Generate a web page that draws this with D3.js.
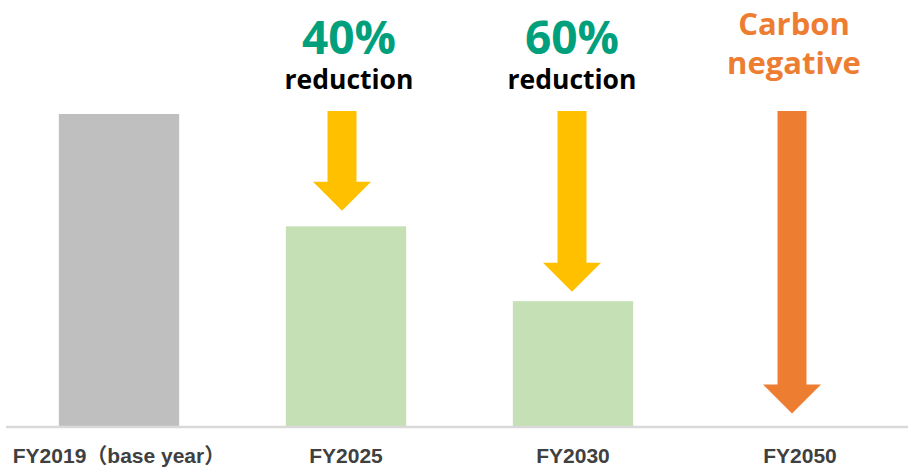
<!DOCTYPE html>
<html>
<head>
<meta charset="utf-8">
<script src="https://cdn.jsdelivr.net/npm/d3@7"></script>
<style>
  body { margin: 0; background: #fff; }
  svg { display: block; }
</style>
</head>
<body>
<svg id="chart" width="908" height="468"></svg>
<script>
// data
var categories = ["FY2019（base year）", "FY2025", "FY2030", "FY2050"];
var emissions = [100, 64, 40, 0];
var barColors = ["#bfbfbf", "#c5e0b4", "#c5e0b4", null];

// reduction arrows (from -> to, in the same units as the bars)
var arrowCats = ["FY2025", "FY2030", "FY2050"];
var arrowFrom = [101, 101, 101];
var arrowTo = [69, 43, 4];
var arrowColors = ["#ffc000", "#ffc000", "#ed7d31"];
var headlines = ["40%", "60%", "Carbon"];
var sublines = ["reduction", "reduction", "negative"];

var svg = d3.select("#chart");

var x = d3.scaleBand()
  .domain(categories)
  .range([5.5, 913.5])
  .paddingInner(0.47)
  .paddingOuter(0.235);

var y = d3.scaleLinear().domain([0, 100]).range([426, 114]);

// bars
svg.selectAll(".bar")
  .data(categories.filter(function (d, i) { return emissions[i] > 0; }))
  .enter()
  .append("rect")
  .attr("class", "bar")
  .attr("x", function (d) { return x(d); })
  .attr("width", x.bandwidth())
  .attr("y", function (d) { return y(emissions[categories.indexOf(d)]); })
  .attr("height", function (d) { return y(0) - y(emissions[categories.indexOf(d)]); })
  .attr("fill", function (d) { return barColors[categories.indexOf(d)]; });

// axis
var axisGen = d3.axisBottom(x).tickSize(0);
var axis = svg.append("g")
  .attr("transform", "translate(0,427)")
  .call(axisGen);
axis.select(".domain")
  .attr("stroke", "#d9d9d9")
  .attr("stroke-width", 2.5)
  .attr("d", "M6,0H908");
axis.selectAll(".tick text")
  .attr("y", 36)
  .attr("dy", 0)
  .attr("fill", "#404040")
  .attr("font-family", "'Liberation Sans', Arial, 'Noto Sans CJK JP', sans-serif")
  .attr("font-weight", "bold")
  .attr("font-size", 21);

// arrows
var arrowShift = [-4, -1, -8];
var textShift = [3, -1, -6];
var shaftW = 29, headW = 58, headH = 29;

arrowCats.forEach(function (c, i) {
  var cx = x(c) + x.bandwidth() / 2 + arrowShift[i];
  var top = y(arrowFrom[i]);
  var tip = y(arrowTo[i]);
  var neck = tip - headH;
  var pts = [
    [cx - shaftW / 2, top],
    [cx + shaftW / 2, top],
    [cx + shaftW / 2, neck],
    [cx + headW / 2, neck],
    [cx, tip],
    [cx - headW / 2, neck],
    [cx - shaftW / 2, neck]
  ];
  svg.append("path")
    .attr("d", d3.line()(pts) + "Z")
    .attr("fill", arrowColors[i]);
});

// annotations
var big = svg.append("g")
  .attr("font-family", "'Open Sans', 'Noto Sans', sans-serif")
  .attr("font-weight", "bold")
  .attr("text-anchor", "middle");

arrowCats.forEach(function (c, i) {
  var tx = x(c) + x.bandwidth() / 2 + textShift[i];
  var isCarbon = i == 2;
  big.append("text")
    .attr("x", tx)
    .attr("y", isCarbon ? 35 : 54)
    .attr("font-size", isCarbon ? 31 : 46)
    .attr("fill", isCarbon ? "#ed7d31" : "#00a07c")
    .text(headlines[i]);
  big.append("text")
    .attr("x", tx)
    .attr("y", isCarbon ? 74 : 89)
    .attr("font-size", isCarbon ? 31 : 26.5)
    .attr("fill", isCarbon ? "#ed7d31" : "#000000")
    .text(sublines[i]);
});
</script>
</body>
</html>
